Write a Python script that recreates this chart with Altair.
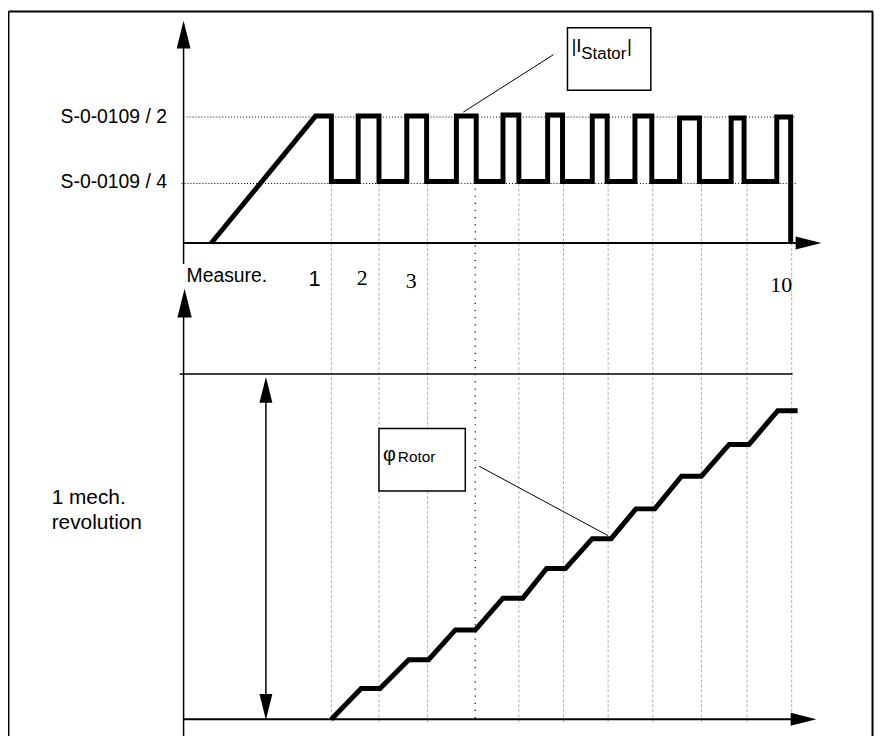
import altair as alt
import pandas as pd

# ---------------- values (page pixel units) ----------------
# chart canvas
W, H = 873, 728
X0, Y0 = 8, 8

# vertical helper lines (grey dashed) and the dotted marker line
grid_x = [334, 382, 431, 523, 568, 613, 658, 707, 753, 798]
marker_x = [479]

# |I_Stator| trace
stator_x = [213, 318, 334, 334, 361, 361, 382, 382, 410, 410, 430, 430, 460, 460,
            480, 480, 507, 507, 523, 523, 552, 552, 567, 567, 597, 597, 612, 612,
            640, 640, 657, 657, 685, 685, 705, 705, 737, 737, 750, 750, 783, 783,
            797, 797]
stator_y = [242, 114, 114, 180, 180, 114, 114, 180, 180, 114, 114, 180, 180, 114,
            114, 180, 180, 113, 113, 180, 180, 113, 113, 180, 180, 114, 114, 180,
            180, 114, 114, 180, 180, 116, 116, 180, 180, 116, 116, 180, 180, 115,
            115, 242]

# phi_Rotor staircase
rotor_x = [334, 364, 383, 412, 432, 459, 479, 507, 527, 551, 570, 597, 616, 641,
           660, 687, 707, 735, 755, 784, 804]
rotor_y = [722, 691, 691, 662, 662, 632, 632, 600, 600, 570, 570, 540, 540, 510,
           510, 477, 477, 445, 445, 411, 411]

# level labels
level_text = ["S-0-0109 / 2", "S-0-0109 / 4"]
level_y = [115, 182]

# solid segments: x, y, x2, y2, width
seg_x = [8.5, 8.5, 879.5, 185, 185, 185, 181, 185, 268, 558, 483]
seg_y = [8.5, 8.5, 8.5, 45, 242, 315, 374, 722, 400, 52, 467]
seg_x2 = [880, 8.5, 879.5, 185, 803, 185, 799, 798, 268, 467, 613]
seg_y2 = [8.5, 744, 744, 263, 242, 744, 374, 722, 700, 110, 537]
seg_w = [2, 2, 2, 1.5, 2, 1.5, 1.5, 2, 1.5, 1, 1]

# annotation boxes
box_x = [572, 382]
box_x2 = [656, 469]
box_y = [25, 429]
box_y2 = [88, 492]

# arrow heads: centre x, centre y, length
up_x = [185, 186, 268]
up_y = [32, 302.5, 390]
up_len = [28, 29, 26]
down_x = [268]
down_y = [709.5]
down_len = [26]
right_x = [815, 810]
right_y = [242, 722]
right_len = [26, 26]

# texts
sans_text = ["S-0-0109 / 2", "S-0-0109 / 4", "Measure.", "1 mech.", "revolution",
             "|I", "Stator", "|", "φ", "Rotor"]
sans_x = [61, 61, 188, 52, 52, 576, 586, 632, 386, 401]
sans_y = [121, 187, 281, 505, 530, 49, 56, 49, 462, 463]
sans_size = [19.5, 19.5, 19.5, 21, 21, 19, 17, 19, 20, 15.5]

num_sans_text = ["1"]
num_sans_x = [317]
num_sans_y = [285]
num_serif_text = ["2", "3", "10"]
num_serif_x = [365, 414.5, 787.5]
num_serif_y = [284, 287, 291]

# ---------------- chart ----------------
xs = alt.Scale(domain=[X0, X0 + W], nice=False, zero=False)
ys = alt.Scale(domain=[Y0, Y0 + H], nice=False, zero=False, reverse=True)


def X(f="x"):
    return alt.X(f"{f}:Q", scale=xs, axis=None)


def Y(f="y"):
    return alt.Y(f"{f}:Q", scale=ys, axis=None)


grid_df = pd.DataFrame({"x": grid_x, "y": 182, "y2": 726})
grid = alt.Chart(grid_df).mark_rule(color="#b0b0b0", strokeWidth=1, strokeDash=[3, 2]).encode(
    x=X(), y=Y(), y2="y2:Q")

marker_df = pd.DataFrame({"x": marker_x, "y": 187, "y2": 722})
marker = alt.Chart(marker_df).mark_rule(color="black", strokeWidth=1.2, strokeDash=[1.2, 6]).encode(
    x=X(), y=Y(), y2="y2:Q")

dot_df = pd.DataFrame({"x": [188, 183], "x2": [803, 803], "y": level_y})
dots = alt.Chart(dot_df).mark_rule(color="black", strokeWidth=1, strokeDash=[1, 2]).encode(
    x=X(), x2="x2:Q", y=Y())

seg_df = pd.DataFrame({"x": seg_x, "y": seg_y, "x2": seg_x2, "y2": seg_y2, "w": seg_w})
segs = alt.Chart(seg_df).mark_rule(color="black").encode(
    x=X(), y=Y(), x2="x2:Q", y2="y2:Q",
    strokeWidth=alt.StrokeWidth("w:Q", scale=None))

stator_df = pd.DataFrame({"x": stator_x, "y": stator_y, "i": range(len(stator_x))})
stator = alt.Chart(stator_df).mark_line(color="black", strokeWidth=5, strokeCap="butt",
                                        strokeJoin="miter").encode(
    x=X(), y=Y(), order="i:Q")

rotor_df = pd.DataFrame({"x": rotor_x, "y": rotor_y, "i": range(len(rotor_x))})
rotor = alt.Chart(rotor_df).mark_line(color="black", strokeWidth=5, strokeCap="butt",
                                      strokeJoin="miter").encode(
    x=X(), y=Y(), order="i:Q")

box_df = pd.DataFrame({"x": box_x, "x2": box_x2, "y": box_y, "y2": box_y2})
boxes = alt.Chart(box_df).mark_rect(fill="white", stroke="black", strokeWidth=1.5).encode(
    x=X(), x2="x2:Q", y=Y(), y2="y2:Q")


def arrows(xv, yv, lv, shape):
    df = pd.DataFrame({"x": xv, "y": yv, "s": [v * v for v in lv]})
    return alt.Chart(df).mark_point(shape=shape, filled=True, fill="black", color="black",
                                    opacity=1, strokeWidth=0).encode(
        x=X(), y=Y(), size=alt.Size("s:Q", scale=None))


arr_up = arrows(up_x, up_y, up_len, "M0,-1L0.5,1L-0.5,1Z")
arr_down = arrows(down_x, down_y, down_len, "M0,1L0.5,-1L-0.5,-1Z")
arr_right = arrows(right_x, right_y, right_len, "M1,0L-1,0.5L-1,-0.5Z")

sans_df = pd.DataFrame({"x": sans_x, "y": sans_y, "t": sans_text, "s": sans_size})
sans = alt.Chart(sans_df).mark_text(font="Liberation Sans", align="left", baseline="alphabetic",
                                    color="black").encode(
    x=X(), y=Y(), text="t:N", size=alt.Size("s:Q", scale=None))

ns_df = pd.DataFrame({"x": num_sans_x, "y": num_sans_y, "t": num_sans_text})
num_sans = alt.Chart(ns_df).mark_text(font="Liberation Sans", align="center", baseline="alphabetic",
                                      fontSize=22, color="black").encode(
    x=X(), y=Y(), text="t:N")

nr_df = pd.DataFrame({"x": num_serif_x, "y": num_serif_y, "t": num_serif_text})
num_serif = alt.Chart(nr_df).mark_text(font="Liberation Serif", align="center", baseline="alphabetic",
                                       fontSize=22, color="black").encode(
    x=X(), y=Y(), text="t:N")

chart = alt.layer(
    grid, marker, dots, segs, stator, rotor, boxes, arr_up, arr_down, arr_right,
    sans, num_sans, num_serif
).properties(
    width=W, height=H, padding=0, autosize=alt.AutoSizeParams(type="none"),
    background="white"
).configure_view(stroke=None)

chart.save("out.html", embed_options={"renderer": "svg", "actions": False})
